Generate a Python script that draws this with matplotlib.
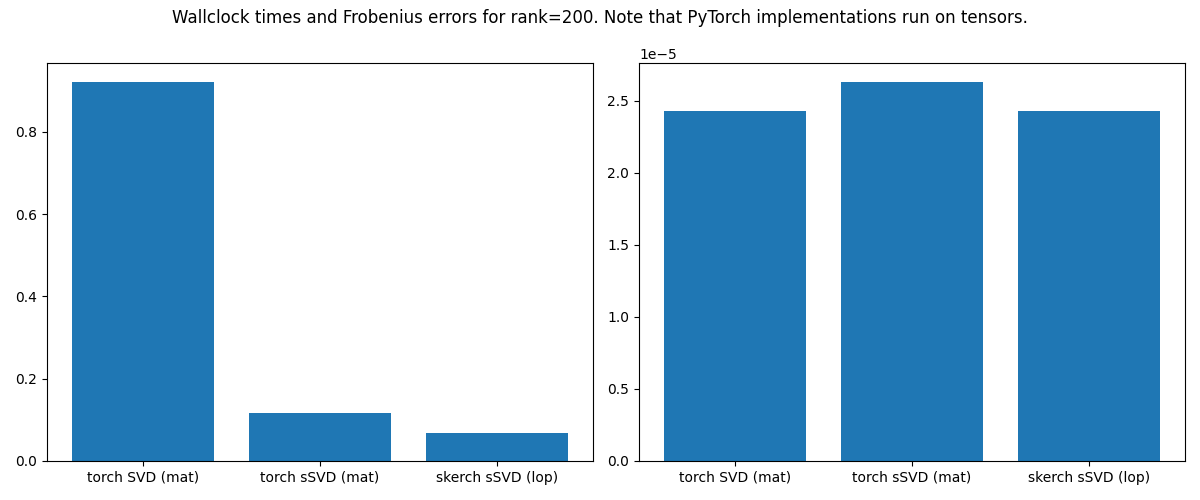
import matplotlib
matplotlib.use("Agg")
import matplotlib.pyplot as plt

methods = ["torch SVD (mat)", "torch sSVD (mat)", "skerch sSVD (lop)"]
times = [0.921, 0.117, 0.068]
errors = [2.43e-5, 2.632e-5, 2.43e-5]

fig, (ax1, ax2) = plt.subplots(1, 2, figsize=(12, 5), dpi=100)
ax1.bar(methods, times, color="#1f77b4")
ax2.bar(methods, errors, color="#1f77b4")
fig.suptitle("Wallclock times and Frobenius errors for rank=200. Note that PyTorch implementations run on tensors.",
             y=0.964, va="center")
fig.subplots_adjust(left=47/1200, right=1185/1200, top=1-63/500, bottom=1-461/500,
                    wspace=(639-593)/((593-47+1185-639)/2))
fig.savefig("out.png")
